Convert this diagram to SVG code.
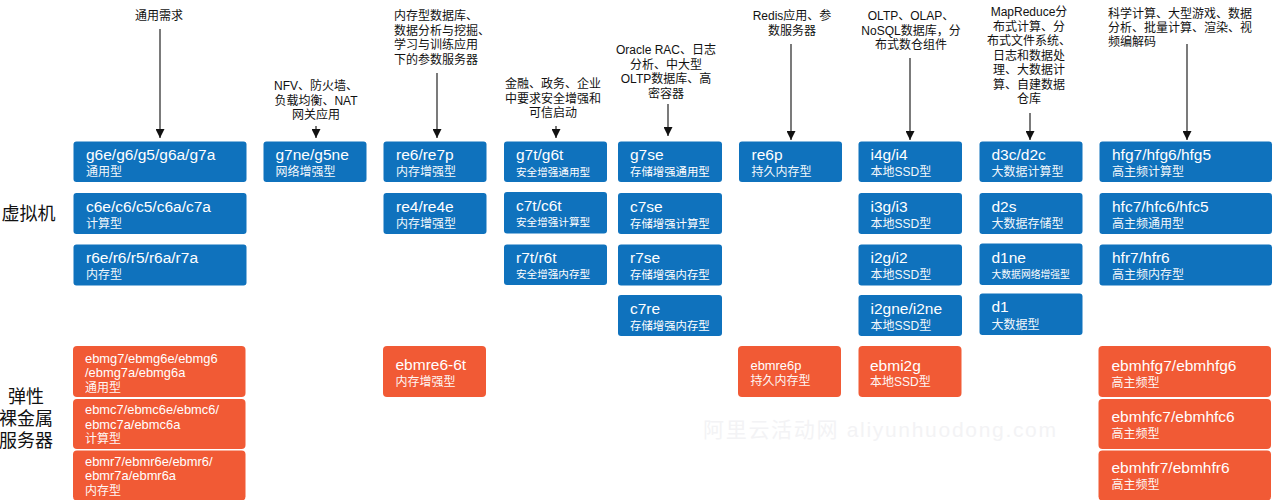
<svg xmlns="http://www.w3.org/2000/svg" width="1276" height="500" viewBox="0 0 1276 500">
<style>
text{font-family:"Liberation Sans","Noto Sans CJK SC",sans-serif}
.b{fill:#0f72bd}.o{fill:#f15a35}
.t{fill:#fff;font-size:15.500px}.s{fill:#fff;font-size:12px;opacity:.95}.m{fill:#fff;font-size:12.900px}.x{fill:#fff;font-size:10.600px}.y{fill:#fff;font-size:11.400px}.z{fill:#fff;font-size:9.800px}
.l{fill:#111;font-size:12px}.c{text-anchor:middle}.h{fill:#111;font-size:18px;text-anchor:middle}
.w{fill:#f3f3f5;font-size:21px}
.a{stroke:#222;stroke-width:1.2;fill:none;marker-end:url(#ah)}
</style>
<defs>
<marker id="ah" markerUnits="userSpaceOnUse" markerWidth="10" markerHeight="9" refX="9" refY="4.5" orient="auto"><path d="M0 0L9 4.5L0 9Z" fill="#111"/></marker>
</defs>
<rect width="1276" height="500" fill="#fff"/>
<g id="watermark"><text class="w" x="703" y="437" textLength="353">阿里云活动网 aliyunhuodong.com</text></g>
<g id="connectors">
<path class="a" d="M160 29V138"/><path class="a" d="M316 126V138"/><path class="a" d="M437 73V138"/><path class="a" d="M556 126V138"/><path class="a" d="M668 104V136"/><path class="a" d="M791 44V140"/><path class="a" d="M910 58V140"/><path class="a" d="M1030 113V140"/><path class="a" d="M1187 44V140"/>
</g>
<g id="label-vm"><text class="h" x="28.500" y="220">虚拟机</text></g>
<g id="label-bm"><text class="h" x="26" y="403">弹性</text><text class="h" x="26" y="425">裸金属</text><text class="h" x="26" y="447">服务器</text></g>
<g id="need-1"><text class="l c" x="159" y="20">通用需求</text></g>
<g id="need-2"><text class="l c" x="316" y="90">NFV、防火墙、</text><text class="l c" x="316" y="104.500">负载均衡、NAT</text><text class="l c" x="316" y="119">网关应用</text></g>
<g id="need-3"><text class="l" x="394" y="20">内存型数据库、</text><text class="l" x="394" y="34.500">数据分析与挖掘、</text><text class="l" x="394" y="49">学习与训练应用</text><text class="l" x="394" y="63.500">下的参数服务器</text></g>
<g id="need-4"><text class="l c" x="553" y="88">金融、政务、企业</text><text class="l c" x="553" y="102.500">中要求安全增强和</text><text class="l c" x="553" y="117">可信启动</text></g>
<g id="need-5"><text class="l c" x="666" y="54">Oracle RAC、日志</text><text class="l c" x="666" y="68.500">分析、中大型</text><text class="l c" x="666" y="83">OLTP数据库、高</text><text class="l c" x="666" y="97.500">密容器</text></g>
<g id="need-6"><text class="l c" x="792" y="20">Redis应用、参</text><text class="l c" x="792" y="34.500">数服务器</text></g>
<g id="need-7"><text class="l c" x="911" y="20">OLTP、OLAP、</text><text class="l c" x="911" y="34.500">NoSQL数据库，分</text><text class="l c" x="911" y="49">布式数仓组件</text></g>
<g id="need-8"><text class="l c" x="1029" y="16">MapReduce分</text><text class="l c" x="1029" y="30.500">布式计算、分</text><text class="l c" x="1029" y="45">布式文件系统、</text><text class="l c" x="1029" y="59.500">日志和数据处</text><text class="l c" x="1029" y="74">理、大数据计</text><text class="l c" x="1029" y="88.500">算、自建数据</text><text class="l c" x="1029" y="103">仓库</text></g>
<g id="need-9"><text class="l" x="1108" y="18">科学计算、大型游戏、数据</text><text class="l" x="1108" y="32">分析、批量计算、渲染、视</text><text class="l" x="1108" y="46">频编解码</text></g>

<g id="g6e"><rect class="b" x="73.500" y="141.500" width="173" height="40.500" rx="3"/><text class="t" x="86" y="160">g6e/g6/g5/g6a/g7a</text><text class="s" x="86" y="176">通用型</text></g>
<g id="c6e"><rect class="b" x="73.500" y="193" width="173" height="41" rx="3"/><text class="t" x="86" y="212">c6e/c6/c5/c6a/c7a</text><text class="s" x="86" y="228">计算型</text></g>
<g id="r6e"><rect class="b" x="73.500" y="244.500" width="173" height="41" rx="3"/><text class="t" x="86" y="263">r6e/r6/r5/r6a/r7a</text><text class="s" x="86" y="279">内存型</text></g>
<g id="g7ne"><rect class="b" x="263.500" y="141.500" width="103" height="40.500" rx="3"/><text class="t" x="275.500" y="160">g7ne/g5ne</text><text class="s" x="275.500" y="176">网络增强型</text></g>
<g id="re6"><rect class="b" x="383.500" y="141.500" width="103" height="40.500" rx="3"/><text class="t" x="396" y="160">re6/re7p</text><text class="s" x="396" y="176">内存增强型</text></g>
<g id="re4"><rect class="b" x="383.500" y="193" width="103" height="41" rx="3"/><text class="t" x="396" y="212">re4/re4e</text><text class="s" x="396" y="228">内存增强型</text></g>
<g id="g7t"><rect class="b" x="504" y="141.500" width="103" height="40.500" rx="3"/><text class="t" x="516" y="160">g7t/g6t</text><text class="x" x="516" y="176">安全增强通用型</text></g>
<g id="c7t"><rect class="b" x="504" y="192" width="103" height="41.500" rx="3"/><text class="t" x="516" y="211">c7t/c6t</text><text class="x" x="516" y="226">安全增强计算型</text></g>
<g id="r7t"><rect class="b" x="504" y="244.500" width="103" height="40.500" rx="3"/><text class="t" x="516" y="263">r7t/r6t</text><text class="x" x="516" y="278">安全增强内存型</text></g>
<g id="g7se"><rect class="b" x="618" y="141.500" width="104" height="40.500" rx="3"/><text class="t" x="630" y="160">g7se</text><text class="y" x="630" y="176">存储增强通用型</text></g>
<g id="c7se"><rect class="b" x="618" y="193" width="104" height="41" rx="3"/><text class="t" x="630" y="212">c7se</text><text class="y" x="630" y="228">存储增强计算型</text></g>
<g id="r7se"><rect class="b" x="618" y="244.500" width="104" height="41" rx="3"/><text class="t" x="630" y="263">r7se</text><text class="y" x="630" y="279">存储增强内存型</text></g>
<g id="c7re"><rect class="b" x="618" y="295" width="104" height="41" rx="3"/><text class="t" x="630" y="314">c7re</text><text class="y" x="630" y="330">存储增强内存型</text></g>
<g id="re6p"><rect class="b" x="739" y="141.500" width="103" height="40.500" rx="3"/><text class="t" x="751.500" y="160">re6p</text><text class="s" x="751.500" y="176">持久内存型</text></g>
<g id="i4g"><rect class="b" x="858.500" y="141.500" width="103.500" height="40.500" rx="3"/><text class="t" x="870.500" y="160">i4g/i4</text><text class="s" x="870.500" y="176">本地SSD型</text></g>
<g id="i3g"><rect class="b" x="858.500" y="193" width="103.500" height="41" rx="3"/><text class="t" x="870.500" y="212">i3g/i3</text><text class="s" x="870.500" y="228">本地SSD型</text></g>
<g id="i2g"><rect class="b" x="858.500" y="244.500" width="103.500" height="41" rx="3"/><text class="t" x="870.500" y="263">i2g/i2</text><text class="s" x="870.500" y="279">本地SSD型</text></g>
<g id="i2gne"><rect class="b" x="858.500" y="295" width="103.500" height="41" rx="3"/><text class="t" x="870.500" y="314">i2gne/i2ne</text><text class="s" x="870.500" y="330">本地SSD型</text></g>
<g id="d3c"><rect class="b" x="979.500" y="141.500" width="103" height="40.500" rx="3"/><text class="t" x="991.500" y="160">d3c/d2c</text><text class="s" x="991.500" y="176">大数据计算型</text></g>
<g id="d2s"><rect class="b" x="979.500" y="193" width="103" height="41" rx="3"/><text class="t" x="991.500" y="212">d2s</text><text class="s" x="991.500" y="228">大数据存储型</text></g>
<g id="d1ne"><rect class="b" x="979.500" y="243.500" width="103" height="41.500" rx="3"/><text class="t" x="991.500" y="263">d1ne</text><text class="z" x="991.500" y="277.500">大数据网络增强型</text></g>
<g id="d1"><rect class="b" x="979.500" y="293.500" width="103" height="41.500" rx="3"/><text class="t" x="991.500" y="312">d1</text><text class="s" x="991.500" y="329">大数据型</text></g>
<g id="hfg7"><rect class="b" x="1099.500" y="141.500" width="172.500" height="40.500" rx="3"/><text class="t" x="1112" y="160">hfg7/hfg6/hfg5</text><text class="s" x="1112" y="176">高主频计算型</text></g>
<g id="hfc7"><rect class="b" x="1099.500" y="193" width="172.500" height="41" rx="3"/><text class="t" x="1112" y="212">hfc7/hfc6/hfc5</text><text class="s" x="1112" y="228">高主频通用型</text></g>
<g id="hfr7"><rect class="b" x="1099.500" y="244.500" width="172.500" height="41" rx="3"/><text class="t" x="1112" y="263">hfr7/hfr6</text><text class="s" x="1112" y="279">高主频内存型</text></g>

<g id="ebmg7"><rect class="o" x="73" y="346" width="172.500" height="51" rx="4"/><text class="m" x="85" y="362.500">ebmg7/ebmg6e/ebmg6</text><text class="m" x="85" y="377">/ebmg7a/ebmg6a</text><text class="s" x="85" y="392">通用型</text></g>
<g id="ebmc7"><rect class="o" x="73" y="399" width="172.500" height="50" rx="4"/><text class="m" x="85" y="414">ebmc7/ebmc6e/ebmc6/</text><text class="m" x="85" y="429">ebmc7a/ebmc6a</text><text class="s" x="85" y="443">计算型</text></g>
<g id="ebmr7"><rect class="o" x="73" y="450.500" width="172.500" height="50" rx="4"/><text class="m" x="85" y="466">ebmr7/ebmr6e/ebmr6/</text><text class="m" x="85" y="480">ebmr7a/ebmr6a</text><text class="s" x="85" y="495">内存型</text></g>
<g id="ebmre6-6t"><rect class="o" x="383" y="346" width="103" height="51" rx="4"/><text class="t" x="395.500" y="370">ebmre6-6t</text><text class="s" x="395.500" y="386">内存增强型</text></g>
<g id="ebmre6p"><rect class="o" x="738" y="346" width="103" height="51" rx="4"/><text class="m" x="750.500" y="370">ebmre6p</text><text class="s" x="750.500" y="385">持久内存型</text></g>
<g id="ebmi2g"><rect class="o" x="858.500" y="346" width="103" height="51" rx="4"/><text class="t" x="870" y="371">ebmi2g</text><text class="s" x="870" y="386">本地SSD型</text></g>
<g id="ebmhfg7"><rect class="o" x="1098.500" y="346" width="172.500" height="51" rx="4"/><text class="t" x="1111.500" y="371">ebmhfg7/ebmhfg6</text><text class="s" x="1111.500" y="387">高主频型</text></g>
<g id="ebmhfc7"><rect class="o" x="1098.500" y="399" width="172.500" height="50" rx="4"/><text class="t" x="1111.500" y="422">ebmhfc7/ebmhfc6</text><text class="s" x="1111.500" y="438">高主频型</text></g>
<g id="ebmhfr7"><rect class="o" x="1098.500" y="450.500" width="172.500" height="50" rx="4"/><text class="t" x="1111.500" y="473">ebmhfr7/ebmhfr6</text><text class="s" x="1111.500" y="489">高主频型</text></g>
</svg>
